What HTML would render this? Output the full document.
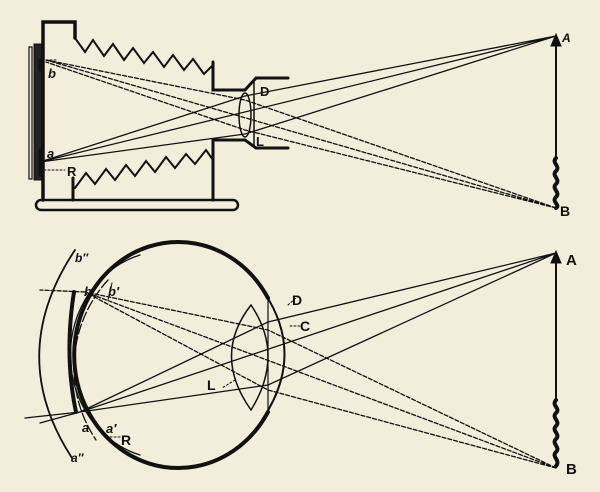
<!DOCTYPE html>
<html><head><style>
html,body{margin:0;padding:0;background:#f3eddc;}
svg{display:block}
text{font-family:"Liberation Sans",sans-serif;font-weight:bold;fill:#111}
</style></head><body>
<svg width="600" height="492" viewBox="0 0 600 492" xmlns="http://www.w3.org/2000/svg">
<rect width="600" height="492" fill="#f3eddc"/>
<g stroke="#111" fill="none" stroke-linecap="round">
<!-- camera -->
<rect x="29" y="47" width="3" height="132" stroke-width="1.2"/>
<rect x="34" y="44" width="8" height="136" fill="#222" stroke-width="1"/>
<path d="M43 200 V22 H75 V38" stroke-width="3.5"/>
<path d="M73 200 V178" stroke-width="3"/>
<path d="M75 38 L85 52 L93 40 L104 56 L113 44 L124 60 L133 48 L144 63 L153 52 L164 67 L173 55 L184 70 L193 59 L204 74 L213 65" stroke-width="2"/>
<path d="M75 188 L86 173 L95 184 L106 169 L115 180 L126 165 L135 176 L146 161 L155 172 L166 157 L175 168 L186 154 L195 164 L206 150 L213 160" stroke-width="2"/>
<path d="M213 62 V90 H245 L256 78 H288" stroke-width="3"/>
<path d="M213 200 V140 H245 L256 148 H288" stroke-width="3"/>
<path d="M254 80 V146" stroke-width="1.5"/>
<ellipse cx="245" cy="115" rx="6" ry="22" stroke-width="1.5"/>
<rect x="36" y="200" width="202" height="10" rx="5" stroke-width="2.5"/>
<!-- top rays -->
<path d="M556 36 L40 162 M556 36 L245 96 L40 162 M556 36 L245 134 L40 162" stroke-width="1.3"/>
<path d="M556 208 L46 60 M556 208 L245 100 L46 60 M556 208 L245 130 L46 62" stroke-width="1.3" stroke-dasharray="4 2"/>
<path d="M40 170 H65 M46 60 h10" stroke-width="1" stroke-dasharray="2 2"/>
<path d="M556 36 V160" stroke-width="2"/>
<path d="M551 46 L556 34 L561 46 Z" fill="#111"/>
<path d="M556 158 c-5 5 5 8 0 13 c-5 5 5 8 0 13 c-5 5 5 8 0 13 c-5 5 5 8 0 11" stroke-width="4"/>
<path d="M40 60 v10 M40 150 v25" stroke-width="3" stroke-dasharray="2 1"/>
<!-- eye -->
<path d="M268 298 A104 113 0 1 0 268 412" stroke-width="4"/>
<path d="M264 292 Q306 355 262 420" stroke-width="2"/>
<path d="M268 296 L268 414" stroke-width="1.2"/>
<path d="M140 255 A96 104 0 0 0 140 455" stroke-width="1.3"/>
<path d="M108 280 A130 130 0 0 0 96 440" stroke-width="1.3" stroke-dasharray="10 3"/>
<path d="M75 250 Q5 355 72 458" stroke-width="1.8"/>
<path d="M251 305 Q212 355 251 410 Q285 355 251 305 Z" stroke-width="1.5"/>
<path d="M74 292 Q64 355 76 412" stroke-width="4" stroke-dasharray="3 1"/>
<!-- eye rays -->
<path d="M556 253 L80 412 M556 253 L268 322 L80 412 M556 253 L268 385 L80 412 M80 412 L25 418 M80 412 L40 423" stroke-width="1.3"/>
<path d="M556 468 L85 292 M556 468 L268 330 L85 292 M556 468 L268 390 L85 292 M85 292 L40 290" stroke-width="1.3" stroke-dasharray="4 2"/>
<path d="M556 253 V400" stroke-width="2"/>
<path d="M551 263 L556 251 L561 263 Z" fill="#111"/>
<path d="M556 400 c-5 6 5 8 0 13 c-5 5 5 8 0 13 c-5 5 5 8 0 13 c-5 5 5 8 0 13 c-5 5 5 8 0 14" stroke-width="4"/>
<path d="M110 437 H122 M235 380 L222 388 M288 305 L298 296 M290 326 H302" stroke-width="1" stroke-dasharray="2 2"/>
<path d="M108 300 L112 283 M88 300 L104 277" stroke-width="1"/>
</g>
<text x="562" y="42" font-size="12" font-style="italic">A</text>
<text x="560" y="216" font-size="14">B</text>
<text x="48" y="78" font-size="13" font-style="italic">b</text>
<text x="47" y="158" font-size="13" font-style="italic">a</text>
<text x="67" y="176" font-size="13">R</text>
<text x="260" y="96" font-size="13">D</text>
<text x="256" y="146" font-size="13">L</text>
<text x="566" y="265" font-size="15">A</text>
<text x="566" y="474" font-size="15">B</text>
<text x="75" y="262" font-size="12" font-style="italic">b″</text>
<text x="84" y="296" font-size="13" font-style="italic">b</text>
<text x="108" y="296" font-size="13" font-style="italic">b′</text>
<text x="82" y="432" font-size="13" font-style="italic">a</text>
<text x="106" y="433" font-size="13" font-style="italic">a′</text>
<text x="71" y="462" font-size="12" font-style="italic">a″</text>
<text x="121" y="445" font-size="14">R</text>
<text x="207" y="390" font-size="14">L</text>
<text x="292" y="305" font-size="14">D</text>
<text x="300" y="331" font-size="14">C</text>
</svg>
</body></html>
